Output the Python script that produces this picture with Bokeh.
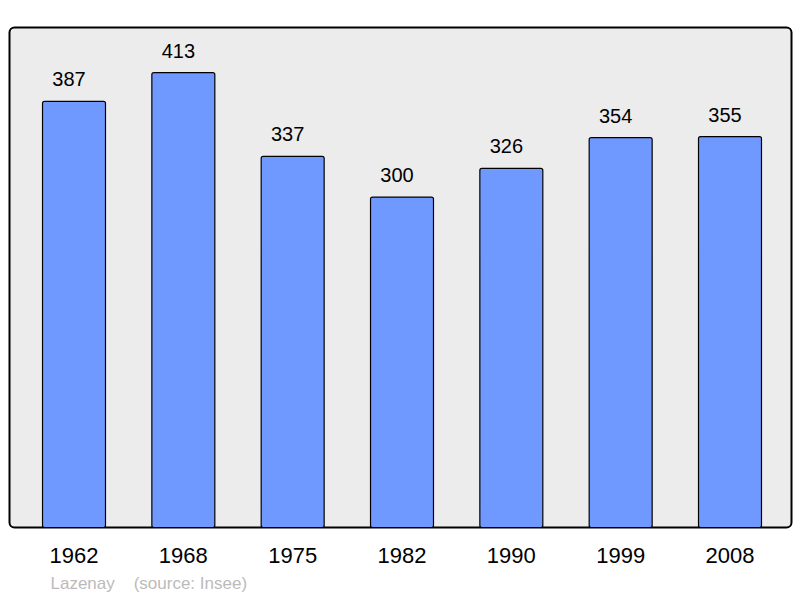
from bokeh.plotting import figure
from bokeh.models import ColumnDataSource, FixedTicker, BoxAnnotation, Range1d, Title
from bokeh.core.properties import value
from bokeh.embed import file_html
from bokeh.resources import INLINE

years = ["1962", "1968", "1975", "1982", "1990", "1999", "2008"]
population = [387, 413, 337, 300, 326, 354, 355]
commune = "Lazenay"
source_note = "(source: Insee)"

xs = list(range(len(years)))
src = ColumnDataSource(dict(x=xs, top=population, lab=[str(v) for v in population]))

FONT = "Liberation Sans"
# visible frame (box) in data units
bx0, bx1 = -0.59, 6.5625
by0, by1 = 0, 454
pxu_x = 109.33
pxu_y = 1.1035
pad = 2  # px of extra room around the box so its outline is not clipped

p = figure(width=800, height=598, output_backend="svg", toolbar_location=None,
           x_range=Range1d(bx0 - pad / pxu_x, bx1 + pad / pxu_x),
           y_range=Range1d(by0 - pad / pxu_y, by1 + pad / pxu_y),
           min_border_left=9 - pad, min_border_right=9 - pad,
           min_border_top=27 - pad, min_border_bottom=598 - 528 - pad)
p.background_fill_color = None
p.border_fill_color = "white"
p.outline_line_color = None
p.grid.visible = False
p.yaxis.visible = False

frame_box = BoxAnnotation(left=bx0, right=bx1, bottom=by0, top=by1, fill_color="#ececec", fill_alpha=1,
                          line_color="black", line_alpha=1, line_width=2, border_radius=5,
                          level="underlay")
p.add_layout(frame_box)

p.vbar(x="x", top="top", width=0.576, bottom=0, source=src, fill_color="#7099ff",
       line_color="black", line_width=1.2, border_radius=2)
p.text(x="x", y="top", text="lab", source=src, text_align="center", text_baseline="alphabetic",
       x_offset=-5, y_offset=-22, text_font_size="20px", text_font=value(FONT), text_color="black")

ax = p.xaxis[0]
ax.ticker = FixedTicker(ticks=xs)
ax.major_label_overrides = {i: y for i, y in enumerate(years)}
ax.axis_line_color = None
ax.major_tick_line_color = None
ax.minor_tick_line_color = None
ax.major_tick_out = 0
ax.major_tick_in = 0
ax.major_label_standoff = 18
ax.major_label_text_font = FONT
ax.major_label_text_font_size = "22px"
ax.major_label_text_color = "black"

footer = Title(text=commune + "\u00a0\u00a0\u00a0\u00a0" + source_note, align="left", offset=43,
               text_font=FONT, text_font_size="17px", text_font_style="normal",
               text_color="#bbbbbb", standoff=12)
p.add_layout(footer, "below")

open("out.html", "w").write(file_html(p, INLINE))
